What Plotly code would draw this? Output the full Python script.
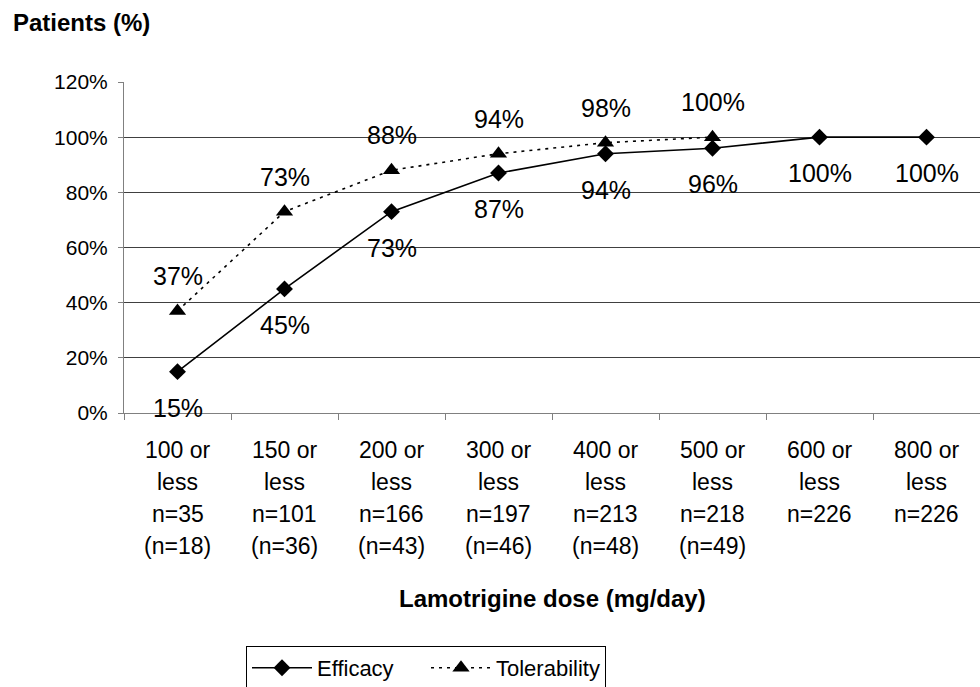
import plotly.graph_objects as go

# Dose categories (x axis) and their sample-size lines
dose_labels = ["100 or", "150 or", "200 or", "300 or", "400 or", "500 or", "600 or", "800 or"]
n_efficacy = ["n=35", "n=101", "n=166", "n=197", "n=213", "n=218", "n=226", "n=226"]
n_tolerability = ["(n=18)", "(n=36)", "(n=43)", "(n=46)", "(n=48)", "(n=49)", "", ""]

# Cumulative percentage of patients (fractions)
efficacy = [0.15, 0.45, 0.73, 0.87, 0.94, 0.96, 1.00, 1.00]
tolerability = [0.37, 0.73, 0.88, 0.94, 0.98, 1.00]

y_ticks = [0, 0.2, 0.4, 0.6, 0.8, 1.0, 1.2]

FONT = "Liberation Sans, Arial, sans-serif"
categories = list(range(len(dose_labels)))

fig = go.Figure()
fig.add_trace(go.Scatter(
    x=categories, y=efficacy, name="Efficacy", mode="lines+markers",
    line=dict(color="black", width=1.6),
    marker=dict(symbol="diamond", size=13, color="black"),
))
fig.add_trace(go.Scatter(
    x=categories[:len(tolerability)], y=tolerability, name="Tolerability",
    mode="lines+markers",
    line=dict(color="black", width=1.6, dash="3px,5px"),
    marker=dict(symbol="triangle-up", size=15, color="black"),
))

annotations = []
# value labels: efficacy below its points, tolerability above
for i, v in enumerate(efficacy):
    annotations.append(dict(x=i, y=v, text=f"{round(v * 100)}%", showarrow=False,
                            yshift=-36, font=dict(size=25, color="black", family=FONT)))
for i, v in enumerate(tolerability):
    annotations.append(dict(x=i, y=v, text=f"{round(v * 100)}%", showarrow=False,
                            yshift=35, font=dict(size=25, color="black", family=FONT)))

# four-line category labels under the axis
for i in categories:
    lines = [dose_labels[i], "less", n_efficacy[i], n_tolerability[i]]
    for k, t in enumerate(lines):
        if not t:
            continue
        annotations.append(dict(x=i, y=0, yref="y", text=t, showarrow=False,
                                yanchor="middle", yshift=-(37 + 32 * k),
                                font=dict(size=23, color="black", family=FONT)))

# x-axis title
annotations.append(dict(x=0.5, xref="paper", y=0, yref="paper", yshift=-185,
                        yanchor="middle", showarrow=False,
                        text="<b>Lamotrigine dose (mg/day)</b>",
                        font=dict(size=24, color="black", family=FONT)))
# y-axis title, above the top-left corner of the plot
annotations.append(dict(x=0, xref="paper", xanchor="left", xshift=-113,
                        y=1, yref="paper", yanchor="middle", yshift=60,
                        showarrow=False, text="<b>Patients (%)</b>",
                        font=dict(size=24, color="black", family=FONT)))

fig.update_layout(
    width=980, height=687,
    margin=dict(l=124, r=0, t=82, b=274),
    paper_bgcolor="white", plot_bgcolor="white",
    font=dict(family=FONT, color="black"),
    showlegend=True,
    legend=dict(
        orientation="h", xref="container", yref="container",
        x=246 / 980, y=1 - 646 / 687, xanchor="left", yanchor="top",
        bordercolor="black", borderwidth=1, bgcolor="white",
        font=dict(size=22, family=FONT, color="black"),
        itemwidth=60, entrywidth=104,
    ),
    xaxis=dict(
        type="linear", range=[-0.5, 7.5], tickvals=[i - 0.5 for i in range(9)],
        showticklabels=False, ticks="outside", ticklen=6, tickcolor="#808080",
        showgrid=False, zeroline=False, showline=True, linecolor="#808080", linewidth=1,
    ),
    yaxis=dict(
        range=[0, 1.2], tickvals=y_ticks, ticktext=[f"{round(t * 100)}%" for t in y_ticks],
        ticks="outside", ticklen=5, tickcolor="#808080", ticklabelstandoff=6,
        tickfont=dict(size=21, family=FONT, color="black"),
        showgrid=True, gridcolor="#404040", gridwidth=1,
        zeroline=False, showline=True, linecolor="#808080", linewidth=1,
    ),
    annotations=annotations,
)

fig.write_html("out.html")
